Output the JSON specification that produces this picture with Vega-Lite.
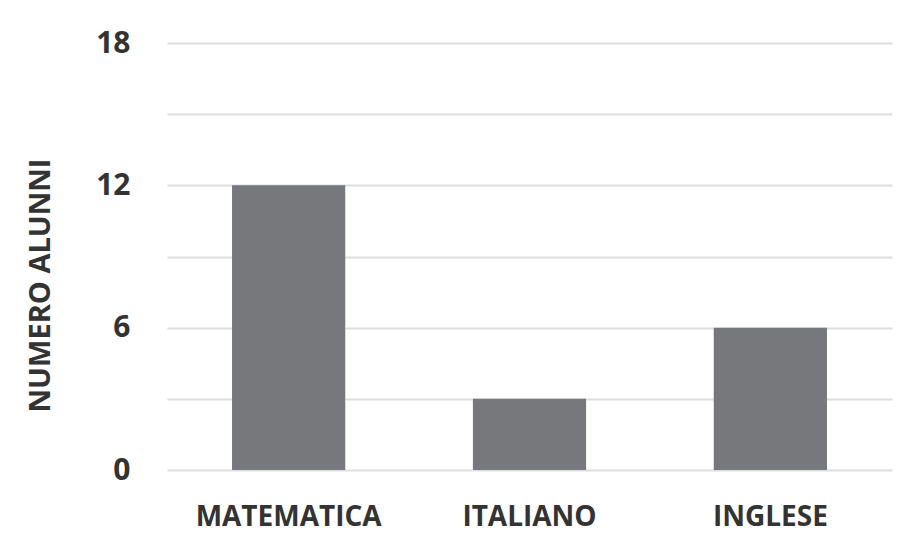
{
  "$schema": "https://vega.github.io/schema/vega-lite/v6.json",
  "width": 725,
  "height": 427,
  "autosize": {"type": "none"},
  "padding": {"left": 167, "top": 43, "right": 16, "bottom": 82},
  "background": "white",
  "data": {"values": [
    {"materia": "MATEMATICA", "alunni": 12},
    {"materia": "ITALIANO", "alunni": 3},
    {"materia": "INGLESE", "alunni": 6}
  ]},
  "mark": {"type": "bar", "color": "#77787c"},
  "encoding": {
    "x": {
      "field": "materia", "type": "nominal", "sort": null,
      "scale": {"paddingInner": 0.53, "paddingOuter": 0.27},
      "axis": {
        "title": null, "labelAngle": 0, "domain": false, "ticks": false,
        "labelFont": "Open Sans", "labelFontWeight": "bold", "labelFontSize": 28,
        "labelColor": "#333333", "labelPadding": 33, "labelLimit": 400
      }
    },
    "y": {
      "field": "alunni", "type": "quantitative",
      "scale": {"domain": [0, 18], "nice": false},
      "axis": {
        "title": "NUMERO ALUNNI",
        "values": [0, 3, 6, 9, 12, 15, 18],
        "labelExpr": "datum.value % 6 === 0 ? datum.label : ''",
        "domain": false, "ticks": false,
        "grid": true, "gridColor": "#dedede", "gridWidth": 2,
        "labelFont": "Open Sans", "labelFontWeight": "bold", "labelFontSize": 30,
        "labelColor": "#333333", "labelPadding": 37,
        "titleFont": "Open Sans", "titleFontWeight": "bold", "titleFontSize": 29,
        "titleColor": "#333333", "titleAngle": -90,
        "titleX": -127, "titleY": 242, "titleAlign": "center", "titleBaseline": "middle"
      }
    }
  },
  "config": {"view": {"stroke": null}}
}
